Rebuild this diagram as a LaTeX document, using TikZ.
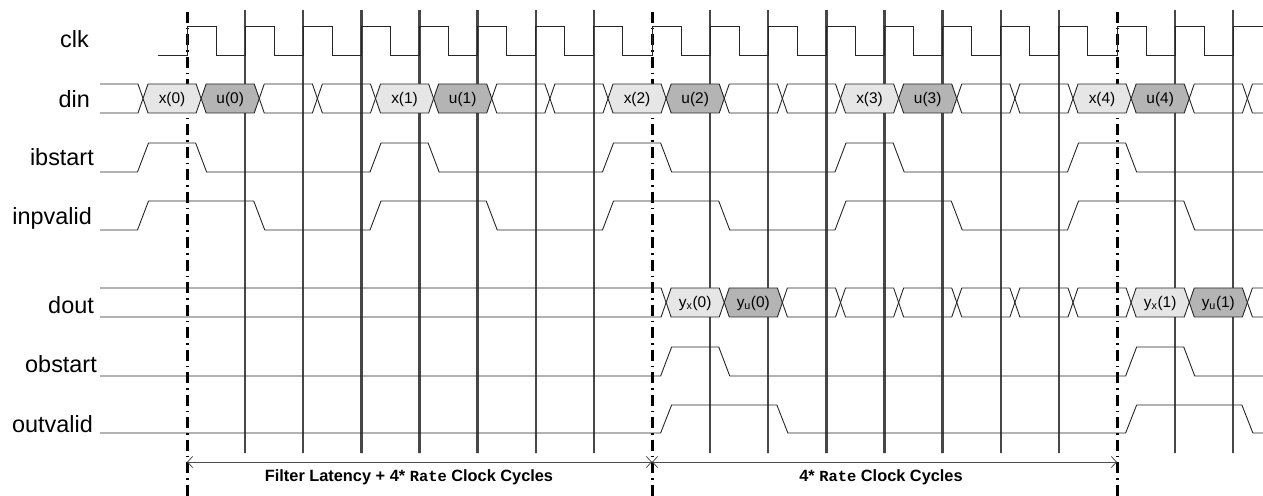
\documentclass[tikz,border=0pt]{standalone}
\usepackage{fontspec}
\setmainfont{Liberation Sans}
\setmonofont{Liberation Mono}
\usetikzlibrary{arrows.meta}
\definecolor{xfill}{HTML}{E6E6E6}
\definecolor{ufill}{HTML}{B4B4B4}
\newcommand\bseg[6]{% #1 name, #2 j, #3 top y, #4 bot y, #5 fill, #6 label
  \pgfmathsetmacro\ca{143+#2*58.125}%
  \pgfmathsetmacro\cb{143+(#2+1)*58.125}%
  \pgfmathsetmacro\my{(#3+#4)/2}%
  \pgfmathsetmacro\cm{(\ca+\cb)/2}%
  \draw[sig, fill=#5] (\ca,\my) -- (\ca+5,#3) -- (\cb-5,#3) -- (\cb,\my) -- (\cb-5,#4) -- (\ca+5,#4) -- cycle;
  \node[hexlbl] (#1) at (\cm,\my+1) {#6};
}
\newcommand\pulsesig[3]{% #1 low y, #2 high y, #3 rise/fall pairs
  \draw[sig] (100,#1) \foreach \r/\f in {#3} { -- ({143+\r*58.125-5.5},#1) -- ({143+\r*58.125+5.5},#2) -- ({143+\f*58.125-5.5},#2) -- ({143+\f*58.125+5.5},#1) } -- (1263,#1);
}
\begin{document}
\begin{tikzpicture}[x=1bp,y=-1bp,
  sig/.style={line width=0.9bp, draw=black!85, line join=miter},
  dotline/.style={line width=2.4bp, draw=black!72, dash pattern=on 0.7bp off 0.3bp},
  dashdotline/.style={line width=3bp, draw=black, dash pattern=on 11bp off 5bp on 1.5bp off 5bp},
  sigl/.style={anchor=base east, inner sep=0pt, font=\fontsize{23.5}{28}\selectfont},
  hexlbl/.style={inner sep=0pt, font=\fontsize{15.5}{18}\selectfont},
  meas/.style={line width=0.8bp, draw=black!70, {Straight Barb[length=5bp,width=11bp]}-{Straight Barb[length=5bp,width=11bp]}},
  botlbl/.style={inner sep=0pt, font=\bfseries\fontsize{16.4}{19}\selectfont}]
\useasboundingbox (0,0) rectangle (1263,496);
% vertical reference lines
\foreach \k in {1,...,18} {
  \ifnum\k=8 \else\ifnum\k=16 \else
    \draw[dotline] ({187+\k*58.125},10) -- ({187+\k*58.125},453);
  \fi\fi
}
\foreach \x in {187,652,1117} \draw[dashdotline] (\x,12) -- (\x,496);
% signal labels
\node[sigl] (lclk) at (89,48) {clk};
\node[sigl] (ldin) at (90,108) {din};
\node[sigl] (libs) at (94,166) {ibstart};
\node[sigl] (linp) at (92,225) {inpvalid};
\node[sigl] (ldout) at (94,314) {dout};
\node[sigl] (lobs) at (97,373) {obstart};
\node[sigl] (lout) at (93,432) {outvalid};
% clock
\draw[sig] (158,55) -- (187,55) \foreach \k in {0,...,17} { -- ({187+\k*58.125},26) -- ({187+\k*58.125+29.06},26) -- ({187+\k*58.125+29.06},55) -- ({187+(\k+1)*58.125},55) } -- (1233.25,26) -- (1263,26);
% din bus
\draw[sig] (100,84) -- (138,84) -- (143,98.5) -- (138,113) -- (100,113);
\bseg{d0}{0}{84}{113}{xfill}{x(0)}
\bseg{d1}{1}{84}{113}{ufill}{u(0)}
\bseg{d2}{2}{84}{113}{none}{}
\bseg{d3}{3}{84}{113}{none}{}
\bseg{d4}{4}{84}{113}{xfill}{x(1)}
\bseg{d5}{5}{84}{113}{ufill}{u(1)}
\bseg{d6}{6}{84}{113}{none}{}
\bseg{d7}{7}{84}{113}{none}{}
\bseg{d8}{8}{84}{113}{xfill}{x(2)}
\bseg{d9}{9}{84}{113}{ufill}{u(2)}
\bseg{d10}{10}{84}{113}{none}{}
\bseg{d11}{11}{84}{113}{none}{}
\bseg{d12}{12}{84}{113}{xfill}{x(3)}
\bseg{d13}{13}{84}{113}{ufill}{u(3)}
\bseg{d14}{14}{84}{113}{none}{}
\bseg{d15}{15}{84}{113}{none}{}
\bseg{d16}{16}{84}{113}{xfill}{x(4)}
\bseg{d17}{17}{84}{113}{ufill}{u(4)}
\bseg{d18}{18}{84}{113}{none}{}
\draw[sig] (1263,84) -- (1252.4,84) -- (1247.4,98.5) -- (1252.4,113) -- (1263,113);
% ibstart, inpvalid
\pulsesig{172}{143}{0/1,4/5,8/9,12/13,16/17}
\pulsesig{230}{201}{0/2,4/6,8/10,12/14,16/18}
% dout bus
\draw[sig] (100,288) -- (661.1,288) -- (666.1,302.5) -- (661.1,317) -- (100,317);
\bseg{o9}{9}{288}{317}{xfill}{y\textsubscript{x}(0)}
\bseg{o10}{10}{288}{317}{ufill}{y\textsubscript{u}(0)}
\foreach \j in {11,...,16} { \bseg{o\j}{\j}{288}{317}{none}{} }
\bseg{o17}{17}{288}{317}{xfill}{y\textsubscript{x}(1)}
\bseg{o18}{18}{288}{317}{ufill}{y\textsubscript{u}(1)}
\draw[sig] (1263,288) -- (1252.4,288) -- (1247.4,302.5) -- (1252.4,317) -- (1263,317);
% obstart, outvalid
\pulsesig{376}{347}{9/10,17/18}
\pulsesig{433}{405}{9/11,17/19}
% measurement arrows
\coordinate (m0) at (187,462);
\coordinate (m1) at (652,462);
\coordinate (m2) at (1117,462);
\draw[meas] (m0) -- (m1);
\draw[meas] (m1) -- (m2);
\node[botlbl] (lat) at (409,477) {Filter Latency + 4* {\ttfamily\fontsize{15.5}{18}\selectfont Rate} Clock Cycles};
\node[botlbl] (cyc) at (881,477) {4* {\ttfamily\fontsize{15.5}{18}\selectfont Rate} Clock Cycles};
\end{tikzpicture}
\end{document}
